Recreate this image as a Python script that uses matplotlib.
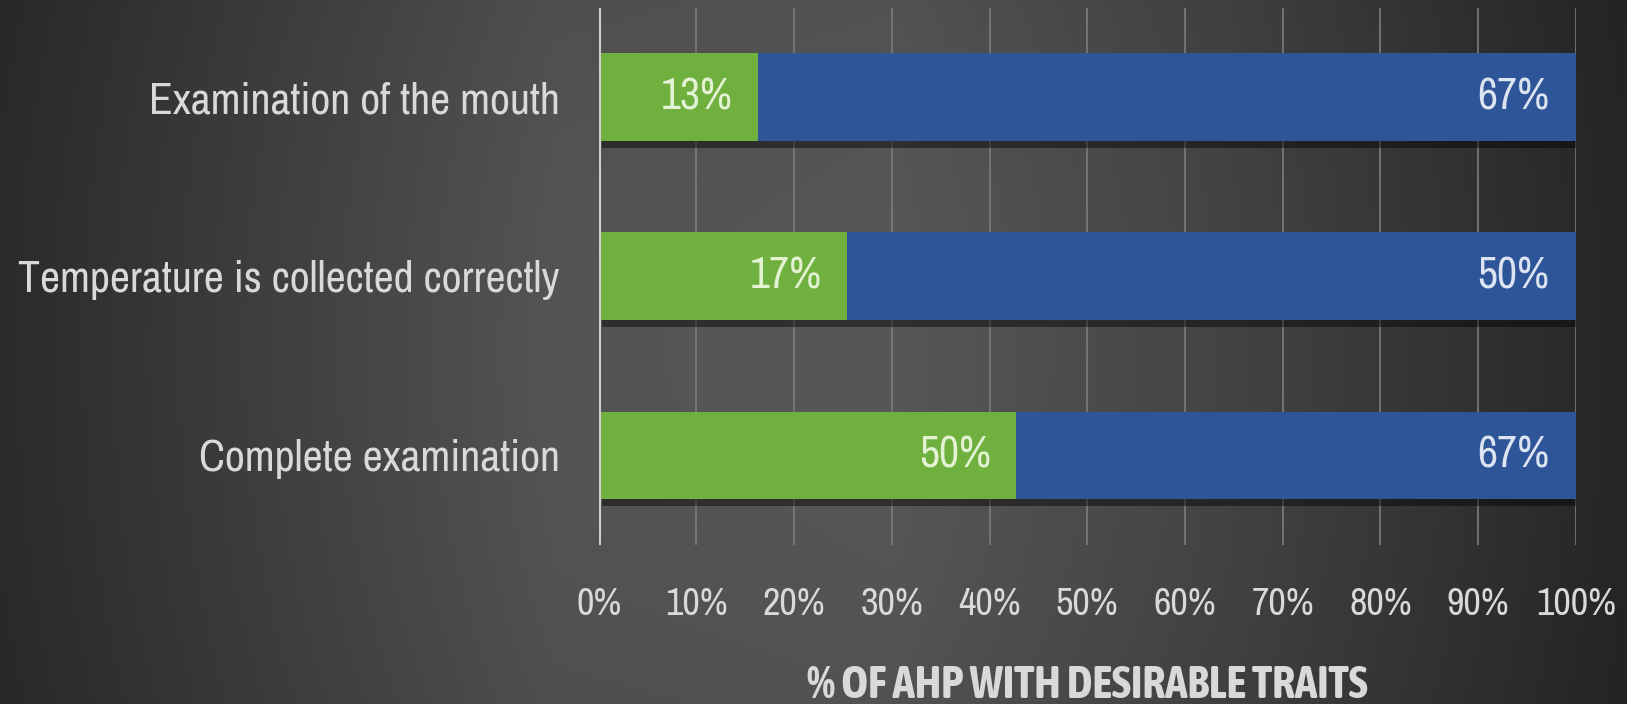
import numpy as np
import matplotlib.pyplot as plt
import matplotlib.patheffects as pe
from matplotlib import font_manager

# data (counts as labelled on the chart; bars are shown as 100% stacked)
categories = ["Complete examination", "Temperature is collected correctly", "Examination of the mouth"]
green_vals = [50, 17, 13]
blue_vals = [67, 50, 67]
tick_labels = ["0%", "10%", "20%", "30%", "40%", "50%", "60%", "70%", "80%", "90%", "100%"]

# pick a narrow font if there is one
fonts = font_manager.fontManager.ttflist
def narrow(f):
    return "Narrow" in f.name or "Condensed" in f.name
reg = [f for f in fonts if narrow(f) and f.weight in (400, "normal", "regular") and f.style == "normal"]
bold = [f for f in fonts if narrow(f) and f.weight in (700, "bold") and f.style == "normal"]
if reg:
    fam = reg[0].name
else:
    names = set(f.name for f in fonts)
    fam = "Roboto" if "Roboto" in names else "DejaVu Sans"
plt.rcParams['font.family'] = [fam, 'DejaVu Sans']
bold_prop = font_manager.FontProperties(fname=bold[0].fname) if bold else \
    font_manager.FontProperties(family=fam, weight='bold')

fig = plt.figure(figsize=(16.27, 7.04), dpi=100)

# gray background, lighter in the middle
bg = fig.add_axes([0, 0, 1, 1], zorder=-10)
gx = np.linspace(0, 1, 600)
grey = np.interp(gx, [0, 0.34, 0.55, 0.75, 1.0], [0x2b, 0x54, 0x57, 0x44, 0x26]) / 255
gy = np.linspace(-1, 1, 100)[:, None]
img = grey[None, :] * (1 - 0.06 * gy ** 2)
bg.imshow(np.dstack([img] * 3), aspect='auto', extent=[0, 1, 0, 1])
bg.axis('off')

ax = fig.add_axes([0.368, 0.226, 0.6005, 0.763])
ax.patch.set_alpha(0)

green = np.array(green_vals, dtype=float)
blue = np.array(blue_vals, dtype=float)
tot = green + blue
gp = green / tot * 100
bp = blue / tot * 100
y = np.arange(len(categories))

shadow = [pe.SimplePatchShadow(offset=(2, -5), shadow_rgbFace='black', alpha=0.45), pe.Normal()]
ax.barh(y, gp, height=0.49, color="#70b03f", zorder=3, path_effects=shadow)
ax.barh(y, bp, left=gp, height=0.49, color="#2e5597", zorder=3, path_effects=shadow)

data_txt = []
for i in range(len(y)):
    data_txt.append(ax.annotate(f"{green_vals[i]}%", (gp[i], y[i]), xytext=(-18, 0), textcoords='offset points',
                                ha='right', va='center', fontsize=30, color="#e2f2d2", zorder=5))
    data_txt.append(ax.annotate(f"{blue_vals[i]}%", (100, y[i]), xytext=(-19, 0), textcoords='offset points',
                                ha='right', va='center', fontsize=30, color="#dce4f2", zorder=5))

ax.set_xlim(0, 100)
ax.set_ylim(-0.5, 2.5)
ax.set_xticks(np.arange(0, 101, 10))
ax.set_xticklabels(tick_labels, fontsize=30, color="#d9d9d9")
ax.set_yticks(y)
ax.set_yticklabels(categories, fontsize=32, color="#d9d9d9")
ax.tick_params(axis='x', length=0, pad=30)
ax.tick_params(axis='y', length=0, pad=28)
ax.grid(axis='x', color="#7c7c7c", linewidth=1.2, zorder=0)
ax.axvline(0, color="#cfcfcf", linewidth=2.2, zorder=4)
for s in ax.spines.values():
    s.set_visible(False)

xl = ax.set_xlabel("% OF AHP WITH DESIRABLE TRAITS", fontproperties=bold_prop, fontsize=25,
                   color="#d9d9d9", va='center')
ax.xaxis.set_label_coords(0.5, -0.262)

# size the texts so their widths match the original
r_ = fig.canvas.get_renderer()
def fit(texts, target):
    w = max(t.get_window_extent(r_).width for t in texts)
    k = target / w
    for t in texts:
        t.set_fontsize(t.get_fontsize() * k)

fit(ax.get_yticklabels(), 540)
fit(ax.get_xticklabels(), 80)
fit(data_txt, 72)
fit([xl], 562)

fig.savefig("out.png", dpi=100)
